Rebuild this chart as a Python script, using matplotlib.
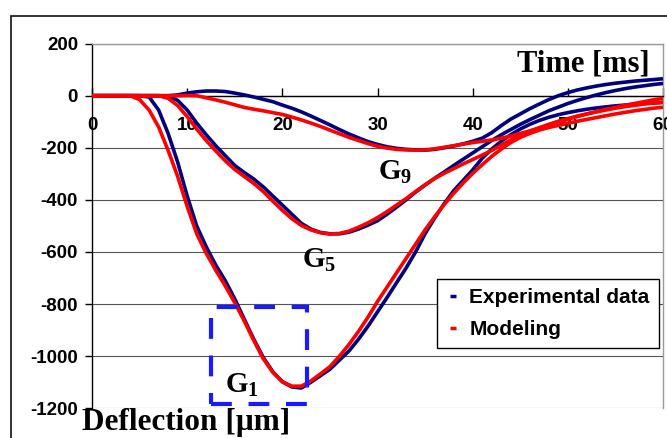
import matplotlib
matplotlib.use("Agg")
import matplotlib.pyplot as plt
from matplotlib.patches import Rectangle
from matplotlib.lines import Line2D

plt.rcParams['axes.unicode_minus'] = False
plt.rcParams['mathtext.fontset'] = 'custom'
plt.rcParams['mathtext.rm'] = 'Liberation Serif:bold'
plt.rcParams['mathtext.it'] = 'Liberation Serif:bold'
plt.rcParams['mathtext.bf'] = 'Liberation Serif:bold'

# ---------------- data ----------------
time_ms = list(range(0, 61))

g1_exp = [0, 0, 0, 0, 0, 0, -5, -55, -145, -255, -385, -500, -580, -650, -710, -780,
          -858, -935, -1005, -1060, -1098, -1118, -1122, -1100, -1075, -1050, -1015,
          -980, -935, -885, -830, -775, -718, -662, -600, -530, -470, -415, -365, -325,
          -285, -240, -205, -175, -150, -128, -110, -95, -83, -73, -65, -58, -52, -47,
          -43, -39, -36, -33, -30, -28, -26]
g1_mod = [0, 0, 0, 0, 0, -15, -55, -120, -210, -310, -425, -530, -605, -670, -730, -795,
          -865, -940, -1010, -1062, -1098, -1115, -1115, -1095, -1068, -1040, -1000,
          -955, -905, -850, -790, -735, -680, -625, -570, -515, -465, -418, -375, -335,
          -298, -265, -233, -205, -180, -160, -145, -132, -122, -114, -106, -98, -91,
          -84, -77, -70, -64, -58, -53, -48, -44]
g5_exp = [0, 0, 0, 0, 0, 0, 0, 0, -2, -18, -55, -105, -150, -192, -230, -268, -295,
          -320, -350, -385, -420, -455, -490, -512, -525, -530, -530, -524, -512, -497,
          -480, -455, -428, -400, -370, -343, -317, -293, -268, -244, -220, -196, -172,
          -150, -130, -110, -92, -75, -58, -44, -30, -18, -7, 3, 12, 20, 27, 33, 38, 43, 47]
g5_mod = [0, 0, 0, 0, 0, 0, 0, 0, -10, -38, -80, -128, -172, -212, -250, -283, -310,
          -337, -368, -405, -440, -472, -498, -515, -526, -531, -529, -520, -505, -488,
          -468, -445, -420, -395, -368, -342, -318, -298, -280, -262, -245, -228, -210,
          -190, -170, -153, -137, -123, -110, -98, -88, -78, -70, -62, -55, -48, -42,
          -37, -32, -28, -25]
g9_exp = [0, 0, 0, 0, 0, 0, 0, 0, 0, 3, 10, 15, 18, 18, 16, 10, 3, -5, -14, -23, -36,
          -48, -62, -78, -95, -112, -130, -147, -162, -176, -187, -196, -202, -206, -208,
          -209, -206, -200, -193, -185, -175, -163, -142, -115, -90, -70, -50, -32, -15,
          0, 12, 22, 30, 37, 43, 48, 52, 56, 59, 62, 65]
g9_mod = [0, 0, 0, 0, 0, 0, 0, 0, 0, 0, 1, 0, -8, -16, -25, -35, -45, -52, -58, -65,
          -72, -82, -93, -105, -118, -132, -146, -160, -172, -184, -194, -201, -206, -208,
          -209, -208, -204, -198, -192, -186, -180, -175, -170, -163, -155, -145, -135,
          -124, -113, -100, -90, -80, -70, -61, -52, -45, -37, -30, -23, -16, -10]

x_ticks = [0, 10, 20, 30, 40, 50, 60]
y_ticks = [-1200, -1000, -800, -600, -400, -200, 0, 200]
series_labels = ["Experimental data", "Modeling"]
curve_labels = ["G$_{1}$", "G$_{5}$", "G$_{9}$"]
curve_label_pos = [(14.0, -1142), (22.1, -662), (30.0, -324)]
box_x = (12.47, 22.55)
box_y = (-1184, -810)

exp_color = '#000080'
mod_color = '#FF0000'

# ---------------- figure ----------------
fig = plt.figure(figsize=(6.67, 4.38), dpi=100)
ax = fig.add_axes([92/667, 1-408.3/438, (663-92)/667, (408.3-43.6)/438])
ax.set_xlim(0, 60)
ax.set_ylim(-1200, 200)

ax.set_yticks(y_ticks)
ax.yaxis.grid(True, color='#555555', linewidth=0.8, zorder=0)
ax.set_axisbelow(True)

for ys in (g1_exp, g5_exp, g9_exp):
    ax.plot(time_ms, ys, color=exp_color, lw=2.6, solid_capstyle='butt', zorder=3)
for ys in (g1_mod, g5_mod, g9_mod):
    ax.plot(time_ms, ys, color=mod_color, lw=2.6, solid_capstyle='butt', zorder=4)

# spines
ax.spines['bottom'].set_position(('data', 0))
ax.spines['bottom'].set_color('black')
ax.spines['bottom'].set_linewidth(1.0)
ax.spines['left'].set_color('black')
ax.spines['left'].set_linewidth(1.0)
for s in ('top', 'right'):
    ax.spines[s].set_color('#999999')
    ax.spines[s].set_linewidth(1.0)

ax.set_xticks(x_ticks)
ax.set_xticklabels([str(v) for v in x_ticks])
ax.tick_params(axis='x', direction='in', length=6, width=1, pad=15,
               labelsize=13.5, colors='black')
ax.tick_params(axis='y', direction='out', length=5, width=1, pad=5,
               labelsize=13.5, colors='black')
for lab in ax.get_xticklabels() + ax.get_yticklabels():
    lab.set_fontfamily('Liberation Sans')
    lab.set_fontweight('bold')
for lab in ax.get_xticklabels():
    lab.set_clip_on(False)

# curve labels
for txt, (xx, yy) in zip(curve_labels, curve_label_pos):
    ax.text(xx, yy, txt, fontsize=21, fontfamily='Liberation Serif',
            fontweight='bold', ha='left', va='baseline', zorder=6)

# dashed highlight box
rect = Rectangle((box_x[0], box_y[0]), box_x[1]-box_x[0], box_y[1]-box_y[0],
                 fill=False, edgecolor='#1a1aff', linewidth=3.0,
                 linestyle=(0, (5, 4)), zorder=5, clip_on=False)
ax.add_patch(rect)

# axis titles
ax.text(0.977, 0.923, "Time [ms]", transform=ax.transAxes, ha='right',
        va='baseline', fontsize=22, fontfamily='Liberation Serif',
        fontweight='bold', zorder=6)
fig.text(82/667, 1-430/438, "Deflection [\u03bcm]", ha='left', va='baseline',
         fontsize=22.5, fontfamily='Liberation Serif', fontweight='bold')

# legend
handles = [Line2D([], [], color=exp_color, marker='_', linestyle='none',
                  markersize=5, markeredgewidth=2.5),
           Line2D([], [], color=mod_color, marker='_', linestyle='none',
                  markersize=5, markeredgewidth=2.5)]
leg = ax.legend(handles, series_labels, loc='upper right',
                bbox_to_anchor=(0.993, 0.3545), frameon=True, fancybox=False,
                framealpha=1, edgecolor='black', borderaxespad=0,
                prop={'family': 'Liberation Sans', 'weight': 'bold', 'size': 15},
                handlelength=0.6, handletextpad=0.5, borderpad=0.45,
                labelspacing=0.6)
leg.get_frame().set_linewidth(1.0)
leg.set_zorder(7)

# outer frame
fig.patches.append(Rectangle((11/667, -0.1), 1.2, (438-16)/438 + 0.1,
                             transform=fig.transFigure, fill=False,
                             edgecolor='#111111', linewidth=1.2))

fig.savefig('out.png', dpi=100)
